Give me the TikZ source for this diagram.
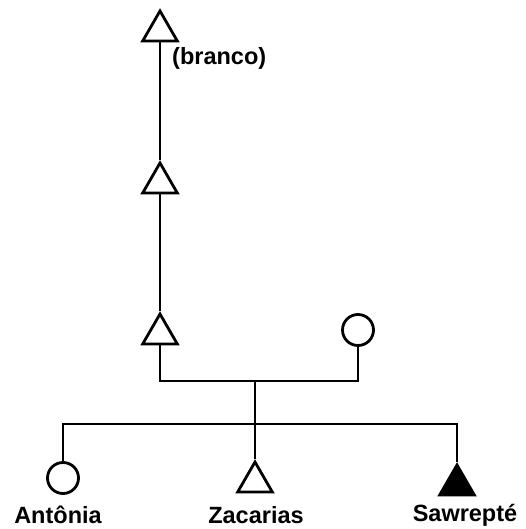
\documentclass[tikz,border=0pt]{standalone}
\usepackage{fontspec}
\setmainfont{Liberation Sans}
\usetikzlibrary{shapes.geometric}
\begin{document}
\begin{tikzpicture}[x=1pt,y=-1pt,
  lw/.style={line width=2.8pt},
  male/.style={regular polygon, regular polygon sides=3, draw, lw, inner sep=0pt, minimum size=40pt, fill=white},
  malefilled/.style={male, fill=black},
  female/.style={circle, draw, lw, inner sep=0pt, minimum size=31pt},
  lbl/.style={font=\fontsize{23.5}{26}\selectfont\bfseries, inner sep=0pt},
  conn/.style={lw, line cap=butt}]
\useasboundingbox (0,0) rectangle (526,529);
\node[male] (t1) at (160,31) {};
\node[male] (t2) at (160,183) {};
\node[male] (t3) at (160,334) {};
\node[female] (w) at (358,330) {};
\node[female] (a) at (63,478) {};
\node[male] (z) at (255,482) {};
\node[malefilled] (sw) at (457,485) {};
\coordinate (m) at (255,381);
\coordinate (s) at (255,424);
\draw[conn] (t1.side 2) -- (t2.corner 1);
\draw[conn] (t2.side 2) -- (t3.corner 1);
\draw[conn] (t3.side 2) |- (m) -| (w.south);
\draw[conn] (m) -- (s);
\draw[conn] (a.north) |- (s) -| (sw.corner 1);
\draw[conn] (s) -- (z.corner 1);
\node[lbl, anchor=base west] (br) at (172,65) {(branco)};
\node[lbl, anchor=base] (la) at (58,523) {Antônia};
\node[lbl, anchor=base] (lz) at (256,523) {Zacarias};
\node[lbl, anchor=base] (ls) at (465,521) {Sawrepté};
\end{tikzpicture}
\end{document}
